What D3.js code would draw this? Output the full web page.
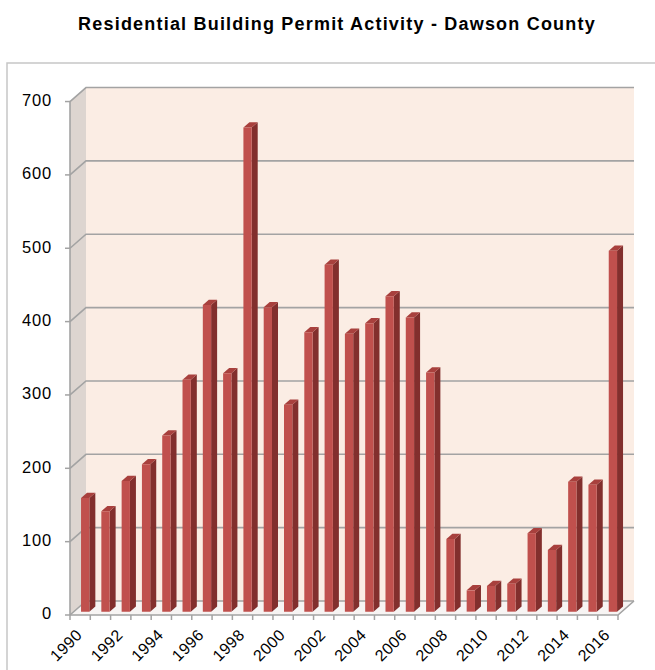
<!DOCTYPE html>
<html>
<head>
<meta charset="utf-8">
<script src="https://cdn.jsdelivr.net/npm/d3@7"></script>
<style>
  html, body { margin: 0; padding: 0; background: #fff; }
  svg { display: block; }
  text { font-family: "Liberation Sans", Arial, sans-serif; fill: #000; }
</style>
</head>
<body>
<svg id="chart" width="655" height="670"></svg>
<script>
// ---- data ----
const years = ["1990","1991","1992","1993","1994","1995","1996","1997","1998","1999",
               "2000","2001","2002","2003","2004","2005","2006","2007","2008","2009",
               "2010","2011","2012","2013","2014","2015","2016"];
const permits = [155,137,178,201,240,316,418,325,660,415,
                 282,381,473,379,393,430,401,326,99,29,
                 35,38,107,84,177,173,492];
const yTicks = [0,100,200,300,400,500,600,700];
const xLabelYears = years.filter((d,i) => i % 2 === 0);
const title = "Residential Building Permit Activity - Dawson County";

// ---- layout ----
const svg = d3.select("#chart");
const DX = 16, DY = -14;          // depth projection vector (full depth)
const x = d3.scaleBand().domain(years).range([70, 618]).paddingInner(0).paddingOuter(0);
const y = d3.scaleLinear().domain([0, 700]).range([615, 615 - 700 * 0.7335]);
const P = (px, py, d) => [px + DX * d, py + DY * d];
const pts = arr => arr.map(p => p.join(",")).join(" ");

// outer border
svg.append("rect").attr("x", 7).attr("y", 63).attr("width", 660).attr("height", 620)
  .attr("fill", "none").attr("stroke", "#c6c6c6").attr("stroke-width", 1.5);

// title
svg.append("text").attr("x", 337).attr("y", 30).attr("text-anchor", "middle")
  .attr("font-size", 18).attr("font-weight", "bold").attr("letter-spacing", 1.2)
  .text(title);

const x0 = x.range()[0], x1 = x.range()[1];
const yTop = y(700), yBase = y(0);

// back wall
svg.append("polygon")
  .attr("points", pts([P(x0, yTop, 1), P(x1, yTop, 1), P(x1, yBase, 1), P(x0, yBase, 1)]))
  .attr("fill", "#fbede4");
// left wall
svg.append("polygon")
  .attr("points", pts([P(x0, yTop, 0), P(x0, yTop, 1), P(x0, yBase, 1), P(x0, yBase, 0)]))
  .attr("fill", "#ddd5d0");
// floor
svg.append("polygon")
  .attr("points", pts([P(x0, yBase, 0), P(x1, yBase, 0), P(x1, yBase, 1), P(x0, yBase, 1)]))
  .attr("fill", "#f7f4f3");

// gridlines (back wall + left wall)
const grid = svg.append("g").attr("stroke", "#a3a3a3").attr("stroke-width", 1.6).attr("fill", "none");
yTicks.forEach(t => {
  const a = P(x0, y(t), 0), b = P(x0, y(t), 1), c = P(x1, y(t), 1);
  grid.append("polyline").attr("points", pts([a, b, c]));
});
// floor edges
grid.append("polyline").attr("points", pts([P(x0, yBase, 0), P(x1, yBase, 0), P(x1, yBase, 1)]));
// front vertical axis line
grid.append("line").attr("x1", x0).attr("x2", x0).attr("y1", yTop).attr("y2", yBase);

// y ticks + labels
const yAxis = svg.append("g");
yTicks.forEach(t => {
  yAxis.append("line").attr("x1", x0 - 5).attr("x2", x0).attr("y1", y(t)).attr("y2", y(t))
    .attr("stroke", "#a3a3a3").attr("stroke-width", 1.5);
  yAxis.append("text").attr("x", 52).attr("y", y(t)).attr("text-anchor", "end")
    .attr("dominant-baseline", "middle").attr("font-size", 16.5).attr("letter-spacing", 0.8)
    .text(t);
});

// x ticks
const xt = svg.append("g").attr("stroke", "#a3a3a3").attr("stroke-width", 1.5);
years.concat(["end"]).forEach((d, i) => {
  const xx = i < years.length ? x(d) : x1;
  xt.append("line").attr("x1", xx).attr("x2", xx).attr("y1", yBase).attr("y2", yBase + 5);
});

// x labels
svg.append("g").selectAll("text").data(xLabelYears).join("text")
  .attr("transform", d => `translate(${x(d) + x.bandwidth() / 2 + 3},${yBase + 21}) rotate(-45)`)
  .attr("text-anchor", "end").attr("font-size", 16).attr("letter-spacing", 0.4).text(d => d);

// bars (3D columns)
const d0 = 0.24, d1 = 0.615;
const off = 7.2, bw = 8.3;
const bars = svg.append("g");
years.forEach((yr, i) => {
  const v = permits[i];
  const L = x(yr) + off, R = L + bw;
  const t = y(v), b = y(0);
  const g = bars.append("g");
  // side face
  g.append("polygon").attr("points", pts([P(R, t, d0), P(R, t, d1), P(R, b, d1), P(R, b, d0)]))
    .attr("fill", "#822f2d");
  // top face
  g.append("polygon").attr("points", pts([P(L, t, d0), P(L, t, d1), P(R, t, d1), P(R, t, d0)]))
    .attr("fill", "#a8403d");
  // front face
  g.append("polygon").attr("points", pts([P(L, t, d0), P(R, t, d0), P(R, b, d0), P(L, b, d0)]))
    .attr("fill", "#c0504d");
});
</script>
</body>
</html>
